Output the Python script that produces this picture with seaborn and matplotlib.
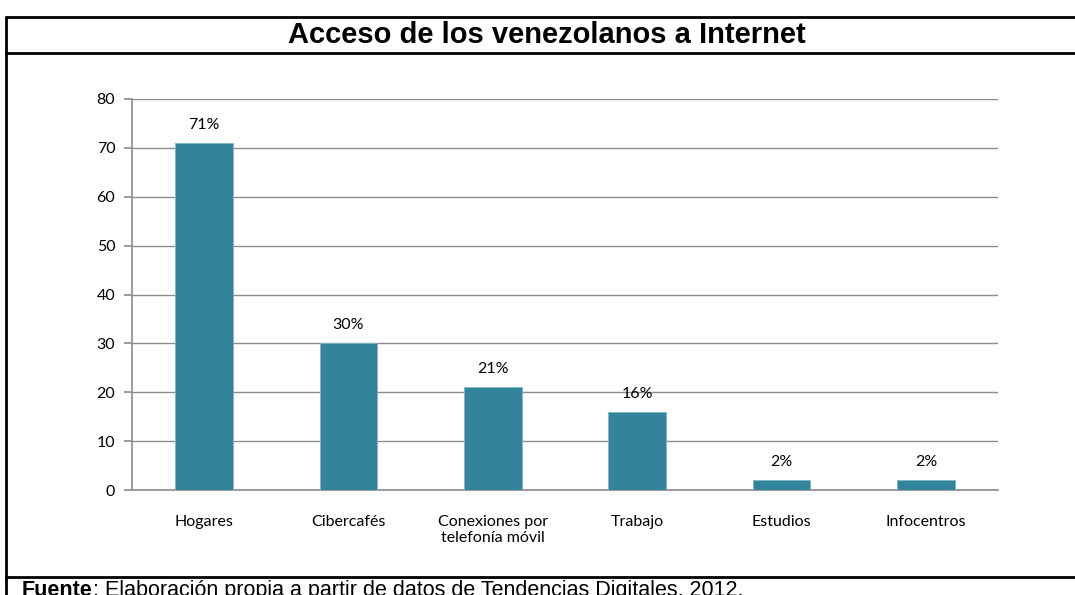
import matplotlib
matplotlib.use("Agg")
import matplotlib.pyplot as plt
from matplotlib.lines import Line2D
import seaborn as sns
import pandas as pd

categorias = ["Hogares", "Cibercafés", "Conexiones por\ntelefonía móvil",
              "Trabajo", "Estudios", "Infocentros"]
porcentajes = [71, 30, 21, 16, 2, 2]
etiquetas = ["71%", "30%", "21%", "16%", "2%", "2%"]
yticks = [0, 10, 20, 30, 40, 50, 60, 70, 80]

W, H = 1075, 595
sns.set_style("white")
plt.rcParams["font.family"] = ["Lato", "DejaVu Sans"]
plt.rcParams["text.color"] = "black"
plt.rcParams["xtick.color"] = "black"
plt.rcParams["ytick.color"] = "black"

df = pd.DataFrame({"categoria": categorias, "valor": porcentajes})

fig = plt.figure(figsize=(W / 100, H / 100), dpi=100)
ax = fig.add_axes([132 / W, 1 - 490 / H, (998 - 132) / W, (490 - 99) / H])

sns.barplot(data=df, x="categoria", y="valor", ax=ax, color="#31849b",
            width=0.4, saturation=1, edgecolor="#7fb7c6", linewidth=0.6,
            zorder=3)

ax.set_ylim(0, 80)
ax.set_xlim(-0.5, len(categorias) - 0.5)
ax.set_yticks(yticks)
ax.yaxis.grid(True, color="#8c8c8c", linewidth=1)
ax.set_axisbelow(True)
ax.set_xlabel("")
ax.set_ylabel("")

for s in ["top", "right"]:
    ax.spines[s].set_visible(False)
for s in ["left", "bottom"]:
    ax.spines[s].set_color("#8c8c8c")
    ax.spines[s].set_linewidth(1.2)

ax.set_xticks([i - 0.5 for i in range(len(categorias) + 1)], minor=True)
ax.tick_params(axis="x", which="minor", length=6, color="#8c8c8c", width=1.2)
ax.tick_params(axis="x", which="major", length=0, pad=18, labelsize=11.5)
ax.tick_params(axis="y", length=6, color="#8c8c8c", width=1.2, labelsize=11.5,
               left=True, pad=6)

ax.bar_label(ax.containers[0], labels=etiquetas, padding=8, fontsize=11.5)

# marco tipo tabla
lw = 2
def hline(y, x0=6, x1=1075):
    fig.add_artist(Line2D([x0 / W, x1 / W], [1 - y / H, 1 - y / H],
                          color="black", linewidth=lw, transform=fig.transFigure))
def vline(x, y0=17, y1=595):
    fig.add_artist(Line2D([x / W, x / W], [1 - y0 / H, 1 - y1 / H],
                          color="black", linewidth=lw, transform=fig.transFigure))

hline(17)
hline(53)
hline(577)
vline(6)

fig.text(547 / W, 1 - 35 / H, "Acceso de los venezolanos a Internet",
         ha="center", va="center", fontsize=21, fontweight="bold",
         family=["Liberation Sans", "DejaVu Sans"])

t1 = fig.text(22 / W, 1 - 580 / H, "Fuente", ha="left", va="top",
              fontsize=15.5, fontweight="bold",
              family=["Liberation Sans", "DejaVu Sans"])
fig.canvas.draw()
bb = t1.get_window_extent()
fig.text(bb.x1 / W, 1 - 580 / H,
         ": Elaboración propia a partir de datos de Tendencias Digitales, 2012.",
         ha="left", va="top", fontsize=15.5,
         family=["Liberation Sans", "DejaVu Sans"])

fig.savefig("out.png", dpi=100)
